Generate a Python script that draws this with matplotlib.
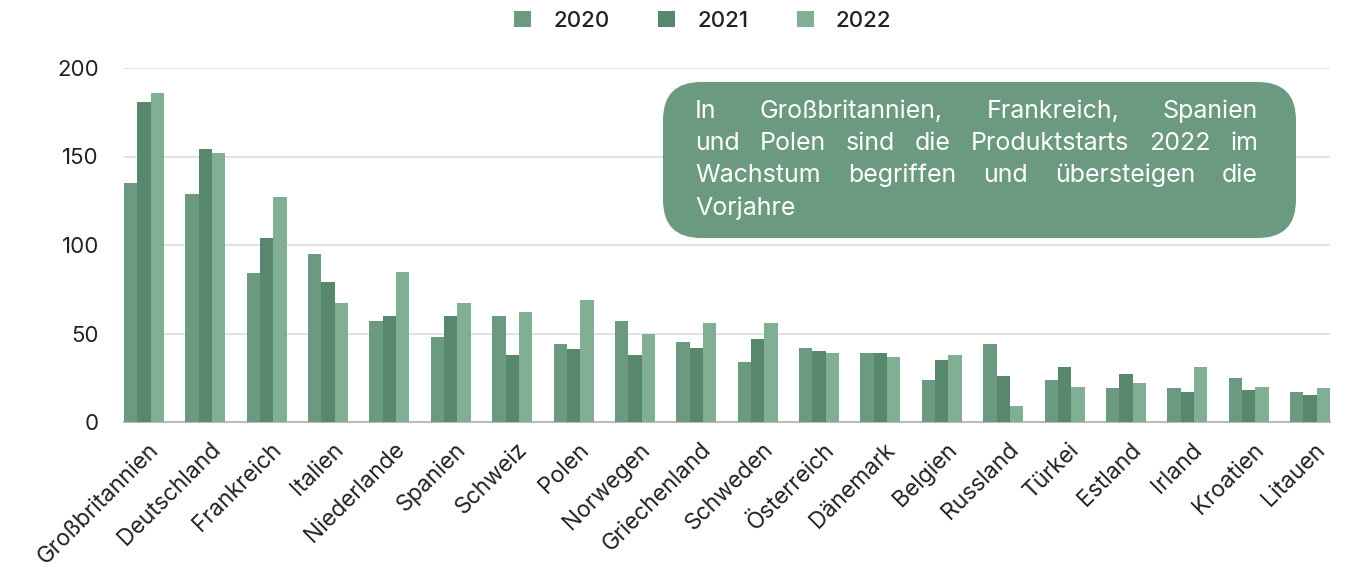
"""Grouped bars: product launches per country 2020-2022."""
import matplotlib
matplotlib.use("Agg")
import matplotlib.pyplot as plt
import matplotlib.transforms as mtransforms
import numpy as np
from matplotlib.patches import FancyBboxPatch

plt.rcParams["font.family"] = ["Inter", "DejaVu Sans"]

countries = ["Großbritannien", "Deutschland", "Frankreich", "Italien", "Niederlande",
             "Spanien", "Schweiz", "Polen", "Norwegen", "Griechenland", "Schweden",
             "Österreich", "Dänemark", "Belgien", "Russland", "Türkei", "Estland",
             "Irland", "Kroatien", "Litauen"]
years = ["2020", "2021", "2022"]
v2020 = [135, 129, 84, 95, 57, 48, 60, 44, 57, 45, 34, 42, 39, 24, 44, 24, 19, 19, 25, 17]
v2021 = [181, 154, 104, 79, 60, 60, 38, 41, 38, 42, 47, 40, 39, 35, 26, 31, 27, 17, 18, 15]
v2022 = [186, 152, 127, 67, 85, 67, 62, 69, 50, 56, 56, 39, 37, 38, 9, 20, 22, 31, 20, 19]
yticks = [0, 50, 100, 150, 200]
note_lines = ["In Großbritannien, Frankreich, Spanien",
              "und Polen sind die Produktstarts 2022 im",
              "Wachstum begriffen und übersteigen die",
              "Vorjahre"]

colors = ["#6b9a80", "#57876c", "#80af94"]
box_color = "#6b9a80"
W, H = 1358, 573

fig = plt.figure(figsize=(W / 100, H / 100), dpi=100)
ax = fig.add_axes([124 / W, 1 - 422 / H, (1330 - 124) / W, (422 - 68) / H])

x = np.arange(len(countries))
w = 0.217
for i, (vals, c, lab) in enumerate(zip([v2020, v2021, v2022], colors, years)):
    ax.bar(x + (i - 1) * w, vals, width=w, color=c, label=lab, zorder=3)

ax.set_xlim(-1.5 * w, len(countries) - 1 + 1.5 * w)
ax.set_ylim(0, 200)
ax.set_yticks(yticks)
ax.set_yticklabels([str(t) for t in yticks], fontsize=16, color="#222222")
ax.yaxis.grid(True, color="#dddddd", linewidth=1.2, zorder=0)
ax.tick_params(axis="y", length=0, pad=18)
ax.tick_params(axis="x", length=0, pad=12)
ax.set_xticks(x)
ax.set_xticklabels(countries, rotation=45, ha="right", rotation_mode="anchor",
                   fontsize=16.5, color="#222222")
shift = mtransforms.ScaledTranslation(4 / 100, 0, fig.dpi_scale_trans)
for lbl in ax.get_xticklabels():
    lbl.set_transform(lbl.get_transform() + shift)
for s in ["top", "right", "left"]:
    ax.spines[s].set_visible(False)
ax.spines["bottom"].set_color("#bbbbbb")
ax.spines["bottom"].set_linewidth(1.5)

leg = ax.legend(loc="center", bbox_to_anchor=(0.48, 1 + (68 - 21) / (422 - 68)),
                ncol=3, frameon=False, fontsize=16, handlelength=0.75,
                handleheight=0.75, columnspacing=2.2, handletextpad=1.0)
for t in leg.get_texts():
    t.set_fontweight("medium")
    t.set_color("#222222")

# annotation box (pixel coords converted to figure fraction)
bx0, by0, bx1, by1 = 663, 82, 1296, 238
box = FancyBboxPatch((bx0 / W, 1 - by1 / H), (bx1 - bx0) / W, (by1 - by0) / H,
                     boxstyle="round,pad=0,rounding_size=0.028",
                     transform=fig.transFigure, facecolor=box_color,
                     edgecolor="none", mutation_aspect=W / H, zorder=5)
fig.patches.append(box)

# justified text lines
renderer = fig.canvas.get_renderer()
fs = 18
tx0, tx1 = 695, 1258
baselines = [118, 150, 182, 215]
for li, (line, yb) in enumerate(zip(note_lines, baselines)):
    words = line.split(" ")
    if li == len(note_lines) - 1 or len(words) == 1:
        fig.text(tx0 / W, 1 - yb / H, line, color="white", fontsize=fs,
                 va="baseline", ha="left", zorder=6)
        continue
    widths = []
    for wd in words:
        t = fig.text(0, 0, wd, fontsize=fs)
        widths.append(t.get_window_extent(renderer).width)
        t.remove()
    gap = (tx1 - tx0 - sum(widths)) / (len(words) - 1)
    xp = tx0
    for wd, ww in zip(words, widths):
        fig.text(xp / W, 1 - yb / H, wd, color="white", fontsize=fs,
                 va="baseline", ha="left", zorder=6)
        xp += ww + gap

fig.savefig("out.png", dpi=100)
